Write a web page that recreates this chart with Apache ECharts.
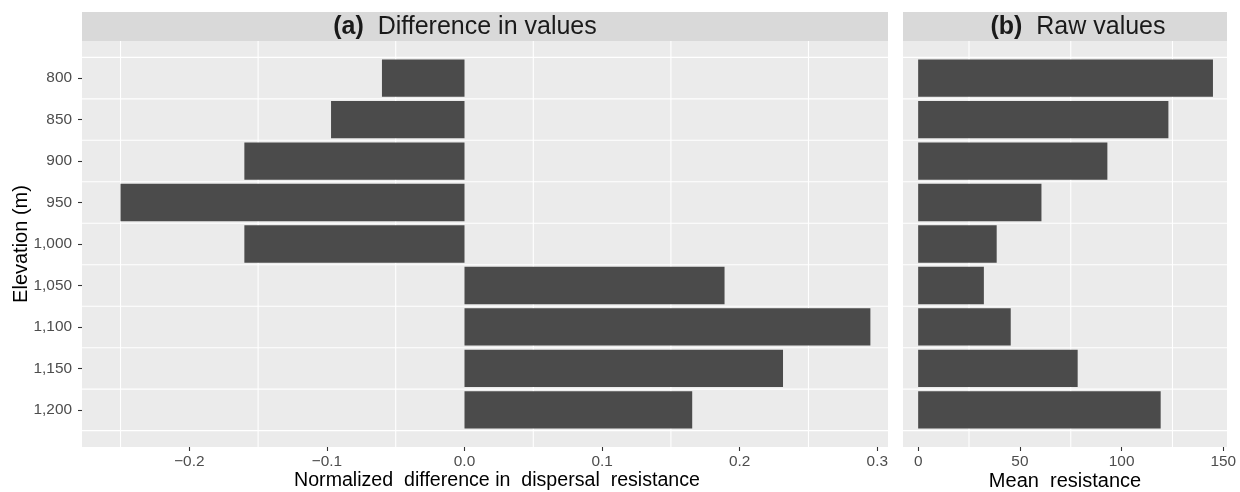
<!DOCTYPE html>
<html>
<head>
<meta charset="utf-8">
<script src="https://cdn.jsdelivr.net/npm/echarts@6/dist/echarts.min.js"></script>
<style>
  html, body { margin: 0; padding: 0; background: #ffffff; }
  #chart { width: 1240px; height: 492px; }
</style>
</head>
<body>
<div id="chart"></div>
<script>
// Elevation classes (m), top to bottom
const elevations = [800, 850, 900, 950, 1000, 1050, 1100, 1150, 1200];
// (a) normalized difference in dispersal resistance
const diffValues = [-0.060, -0.097, -0.160, -0.250, -0.160, 0.189, 0.295, 0.2315, 0.1655];
// (b) mean resistance
const rawValues = [144.9, 123.0, 93.0, 60.6, 38.6, 32.3, 45.5, 78.4, 119.2];

// Tick labels
const elevationTicks = [800, 850, 900, 950, 1000, 1050, 1100, 1150, 1200];
const diffTicks = [-0.2, -0.1, 0.0, 0.1, 0.2, 0.3];
const rawTicks = [0, 50, 100, 150];

// Grid lines sit half-way between the labelled breaks
const elevationGrid = [775, 825, 875, 925, 975, 1025, 1075, 1125, 1175, 1225];
const diffGrid = [-0.25, -0.15, -0.05, 0.05, 0.15, 0.25];
const rawGrid = [25, 75, 125];

const BAR_SPAN = 45;          // bar thickness in elevation units
const BAR_COLOR = '#4B4B4B';
const PANEL_BG = '#EBEBEB';
const STRIP_BG = '#D9D9D9';
const FONT = '"Liberation Sans", Arial, Helvetica, sans-serif';

const PANEL_TOP = 41, PANEL_H = 406;
const A_LEFT = 82, A_W = 806;
const B_LEFT = 903, B_W = 324;

const chart = echarts.init(document.getElementById('chart'), null, { renderer: 'canvas' });

function fmtElevation(v) { return v.toLocaleString('en-US'); }
function fmtDiff(v) {
  const s = Math.abs(v).toFixed(1);
  return v < -1e-9 ? '\u2212' + s : s;
}

function barSeries(values, axisIndex) {
  return {
    type: 'custom',
    xAxisIndex: axisIndex,
    yAxisIndex: axisIndex,
    z: 3,
    silent: true,
    encode: { x: 0, y: 1 },
    data: values.map((v, i) => [v, elevations[i]]),
    renderItem(params, api) {
      const v = api.value(0), e = api.value(1);
      const p0 = api.coord([0, e]);
      const p1 = api.coord([v, e]);
      const h = Math.abs(api.size([0, BAR_SPAN])[1]);
      return {
        type: 'rect',
        shape: {
          x: Math.min(p0[0], p1[0]),
          y: p0[1] - h / 2,
          width: Math.abs(p1[0] - p0[0]),
          height: h
        },
        style: { fill: BAR_COLOR }
      };
    }
  };
}

function vGridSeries(values, axisIndex, refY) {
  return {
    type: 'custom',
    xAxisIndex: axisIndex,
    yAxisIndex: axisIndex,
    z: 1,
    silent: true,
    encode: { x: 0, y: 1 },
    data: values.map(v => [v, refY]),
    renderItem(params, api) {
      const cs = params.coordSys;
      const x = api.coord([api.value(0), api.value(1)])[0];
      return {
        type: 'line',
        shape: { x1: x, y1: cs.y, x2: x, y2: cs.y + cs.height },
        style: { stroke: '#FFFFFF', lineWidth: 1.1 }
      };
    }
  };
}

function hGridSeries(values, axisIndex, refX) {
  return {
    type: 'custom',
    xAxisIndex: axisIndex,
    yAxisIndex: axisIndex,
    z: 1,
    silent: true,
    encode: { x: 0, y: 1 },
    data: values.map(v => [refX, v]),
    renderItem(params, api) {
      const cs = params.coordSys;
      const y = api.coord([api.value(0), api.value(1)])[1];
      return {
        type: 'line',
        shape: { x1: cs.x, y1: y, x2: cs.x + cs.width, y2: y },
        style: { stroke: '#FFFFFF', lineWidth: 1.1 }
      };
    }
  };
}

const tickStyle = { show: true, length: 4, lineStyle: { color: '#333333', width: 1.1 } };
const labelStyle = { color: '#4D4D4D', fontSize: 15.4, fontFamily: FONT };

function yAxis(gridIndex, showLabels) {
  return {
    type: 'value',
    gridIndex,
    position: 'left',
    inverse: true,
    min: 755.25,
    max: 1244.75,
    axisLine: { show: false, onZero: false },
    splitLine: { show: false },
    axisTick: showLabels ? Object.assign({ customValues: elevationTicks }, tickStyle) : { show: false },
    axisLabel: showLabels
      ? Object.assign({ customValues: elevationTicks, margin: 10, formatter: fmtElevation }, labelStyle)
      : { show: false }
  };
}

function xAxis(gridIndex, min, max, ticks, formatter) {
  return {
    type: 'value',
    gridIndex,
    position: 'bottom',
    min,
    max,
    axisLine: { show: false, onZero: false },
    splitLine: { show: false },
    axisTick: Object.assign({ customValues: ticks }, tickStyle),
    axisLabel: Object.assign({ customValues: ticks, margin: 7, formatter }, labelStyle)
  };
}

const stripRich = { b: { fontWeight: 'bold', fontSize: 25, fontFamily: FONT, fill: '#1A1A1A' } };

const option = {
  backgroundColor: '#FFFFFF',
  animation: false,
  grid: [
    { left: A_LEFT, top: PANEL_TOP, width: A_W, height: PANEL_H, show: true, backgroundColor: PANEL_BG, borderWidth: 0 },
    { left: B_LEFT, top: PANEL_TOP, width: B_W, height: PANEL_H, show: true, backgroundColor: PANEL_BG, borderWidth: 0 }
  ],
  xAxis: [
    xAxis(0, -0.278, 0.3078, diffTicks, fmtDiff),
    xAxis(1, -7.45, 151.8, rawTicks, v => String(v))
  ],
  yAxis: [yAxis(0, true), yAxis(1, false)],
  series: [
    vGridSeries(diffGrid, 0, 1000),
    hGridSeries(elevationGrid, 0, 0),
    barSeries(diffValues, 0),
    vGridSeries(rawGrid, 1, 1000),
    hGridSeries(elevationGrid, 1, 0),
    barSeries(rawValues, 1)
  ],
  graphic: [
    // facet strips
    { type: 'rect', left: A_LEFT, top: 12, shape: { width: A_W, height: 29 }, style: { fill: STRIP_BG }, silent: true },
    { type: 'rect', left: B_LEFT, top: 12, shape: { width: B_W, height: 29 }, style: { fill: STRIP_BG }, silent: true },
    {
      type: 'text', x: 465, y: 27, silent: true,
      style: {
        text: '{b|(a)}  Difference in values',
        align: 'center', verticalAlign: 'middle',
        fill: '#1A1A1A', fontSize: 25, fontFamily: FONT,
        rich: stripRich
      }
    },
    {
      type: 'text', x: 1078, y: 27, silent: true,
      style: {
        text: '{b|(b)}  Raw values',
        align: 'center', verticalAlign: 'middle',
        fill: '#1A1A1A', fontSize: 25, fontFamily: FONT,
        rich: stripRich
      }
    },
    // axis titles
    {
      type: 'text', x: 497, y: 481, silent: true,
      style: {
        text: 'Normalized  difference in  dispersal  resistance',
        align: 'center', verticalAlign: 'middle',
        fill: '#000000', fontSize: 19.6, fontFamily: FONT
      }
    },
    {
      type: 'text', x: 1065, y: 481, silent: true,
      style: {
        text: 'Mean  resistance',
        align: 'center', verticalAlign: 'middle',
        fill: '#000000', fontSize: 20, fontFamily: FONT
      }
    },
    {
      type: 'text', x: 21, y: 244, rotation: Math.PI / 2, silent: true,
      style: {
        text: 'Elevation (m)',
        align: 'center', verticalAlign: 'middle',
        fill: '#000000', fontSize: 20, fontFamily: FONT
      }
    }
  ]
};

chart.setOption(option);
</script>
</body>
</html>
